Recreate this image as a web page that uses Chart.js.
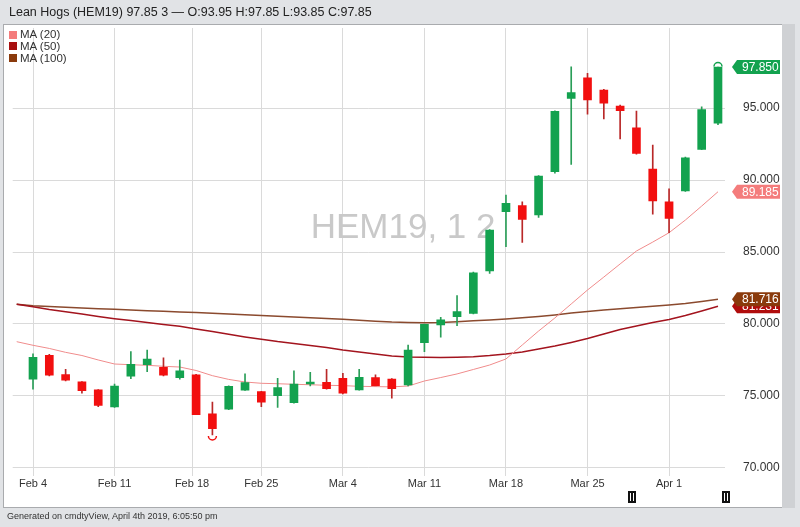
<!DOCTYPE html>
<html>
<head>
<meta charset="utf-8">
<script src="https://cdn.jsdelivr.net/npm/chart.js@4.4.1/dist/chart.umd.min.js"></script>
<style>
  html, body { margin: 0; padding: 0; }
  body { width: 800px; height: 527px; background: #e1e3e6; position: relative; overflow: hidden;
         font-family: "Liberation Sans", Arial, sans-serif; color: #222; }
  #frame { position: absolute; left: 3px; top: 24px; width: 778px; height: 482px; background: #fff;
           border: 1px solid #a9abae; }
  #strip { position: absolute; left: 782px; top: 24px; width: 13px; height: 484px; background: #cfd1d4; }
  #chart { position: absolute; left: 0; top: 0; }
  #header { position: absolute; left: 9px; top: 5px; font-size: 12.5px; white-space: nowrap; }
  #legend { position: absolute; left: 9px; top: 29px; font-size: 11.5px; line-height: 11.8px; color: #333; }
  #legend div { height: 11.8px; white-space: nowrap; }
  #legend span { display: inline-block; width: 8px; height: 8px; margin-right: 3px; vertical-align: -0.5px; }
  #footer { position: absolute; left: 7px; top: 511px; font-size: 9px; color: #333; white-space: nowrap; }
</style>
</head>
<body>
<div id="frame"></div>
<div id="strip"></div>
<canvas id="chart" width="800" height="527"></canvas>
<div id="header">Lean Hogs (HEM19) 97.85 3 — O:93.95 H:97.85 L:93.85 C:97.85</div>
<div id="legend">
  <div><span style="background:#f47c7c"></span>MA (20)</div>
  <div><span style="background:#a80f0f"></span>MA (50)</div>
  <div><span style="background:#8a3a0c"></span>MA (100)</div>
</div>
<div id="footer">Generated on cmdtyView, April 4th 2019, 6:05:50 pm</div>
<script>
// trading days, Feb 1 only carries the moving averages
const dates = ['Feb 1', 'Feb 4', 'Feb 5', 'Feb 6', 'Feb 7', 'Feb 8', 'Feb 11', 'Feb 12', 'Feb 13', 'Feb 14', 'Feb 15',
    'Feb 19', 'Feb 20', 'Feb 21', 'Feb 22', 'Feb 25', 'Feb 26', 'Feb 27', 'Feb 28', 'Mar 1', 'Mar 4', 'Mar 5', 'Mar 6',
    'Mar 7', 'Mar 8', 'Mar 11', 'Mar 12', 'Mar 13', 'Mar 14', 'Mar 15', 'Mar 18', 'Mar 19', 'Mar 20', 'Mar 21', 'Mar 22',
    'Mar 25', 'Mar 26', 'Mar 27', 'Mar 28', 'Mar 29', 'Apr 1', 'Apr 2', 'Apr 3', 'Apr 4'];

const openP = [null, 76.16, 77.83, 76.48, 75.99, 75.42, 74.24, 76.37, 77.17, 76.99, 76.27,
    76.46, 73.75, 74.08, 75.40, 75.30, 75.02, 74.53, 75.83, 75.95, 76.23, 75.42, 76.27,
    76.18, 75.76, 78.70, 79.93, 80.51, 80.74, 83.68, 87.80, 88.22, 87.57, 90.58, 95.67,
    97.10, 96.25, 95.14, 93.63, 90.76, 88.49, 89.24, 92.13, 93.95];
const highP = [null, 77.92, 77.90, 76.85, 76.00, 75.45, 75.83, 78.08, 78.19, 77.64, 77.50,
    76.50, 74.58, 75.70, 76.53, 75.32, 76.23, 76.74, 76.65, 76.85, 76.58, 76.85, 76.46,
    76.20, 78.54, 80.00, 80.47, 81.97, 83.60, 86.55, 88.96, 88.49, 90.30, 94.80, 97.87,
    97.41, 96.30, 95.20, 94.79, 92.43, 89.38, 91.60, 95.09, 97.85];
const lowP = [null, 75.47, 76.40, 76.05, 75.19, 74.26, 74.20, 76.20, 76.69, 76.40, 76.16,
    73.70, 72.29, 74.05, 75.38, 74.26, 74.21, 74.50, 75.69, 75.48, 75.15, 75.40, 75.70,
    74.84, 75.70, 78.08, 79.08, 79.88, 80.70, 83.52, 85.37, 85.67, 87.41, 90.47, 91.09,
    94.58, 94.24, 92.85, 91.80, 87.62, 86.34, 89.20, 92.10, 93.85];
const closeP = [null, 77.69, 76.44, 76.09, 75.37, 74.35, 75.69, 77.20, 77.57, 76.44, 76.74,
    73.70, 72.73, 75.67, 75.93, 74.56, 75.58, 75.83, 75.95, 75.51, 75.19, 76.30, 75.72,
    75.51, 78.19, 79.98, 80.28, 80.86, 83.56, 86.53, 88.38, 87.27, 90.28, 94.77, 96.07,
    95.56, 95.33, 94.81, 91.85, 88.54, 87.34, 91.55, 94.90, 97.85];

const ma20 = [78.77, 78.52, 78.30, 78.03, 77.81, 77.50, 77.22, 77.17, 77.13, 77.06, 77.01,
    76.77, 76.41, 76.15, 75.97, 75.88, 75.85, 75.81, 75.78, 75.74, 75.72, 75.67, 75.65,
    75.63, 75.69, 76.04, 76.28, 76.53, 76.84, 77.15, 77.57, 78.54, 79.51, 80.42, 81.39,
    82.36, 83.26, 84.17, 85.07, 85.69, 86.34, 87.22, 88.19, 89.185];
const ma50 = [81.37, 81.20, 81.01, 80.85, 80.69, 80.52, 80.37, 80.24, 80.10, 79.97, 79.84,
    79.65, 79.48, 79.28, 79.10, 78.94, 78.78, 78.65, 78.51, 78.37, 78.19, 78.06, 77.92,
    77.78, 77.71, 77.69, 77.67, 77.69, 77.73, 77.81, 77.92, 78.06, 78.26, 78.47, 78.72,
    78.99, 79.31, 79.62, 79.86, 80.10, 80.31, 80.59, 80.90, 81.231];
const ma100 = [81.37, 81.27, 81.22, 81.16, 81.11, 81.06, 81.02, 80.97, 80.92, 80.88, 80.83,
    80.80, 80.75, 80.69, 80.64, 80.59, 80.53, 80.49, 80.43, 80.38, 80.33, 80.26, 80.19,
    80.13, 80.10, 80.09, 80.10, 80.16, 80.22, 80.28, 80.35, 80.43, 80.52, 80.63, 80.76,
    80.87, 80.97, 81.06, 81.15, 81.23, 81.32, 81.42, 81.56, 81.716];

const weekTicks = ['Feb 4', 'Feb 11', 'Feb 18', 'Feb 25', 'Mar 4', 'Mar 11', 'Mar 18', 'Mar 25', 'Apr 1'];
const weekTickPos = [1, 6, 10.75, 15, 20, 25, 30, 35, 40];
const yTicks = [70, 75, 80, 85, 90, 95];
const eventPos = [37.75, 43.5];   // the little "II" markers under the axis

const GREEN = '#13a24f';
const RED = '#f20f0f';
const C_MA20 = '#f08c8c', C_MA50 = '#a3141e', C_MA100 = '#8b4a2e';

Chart.defaults.font.family = '"Liberation Sans", Arial, sans-serif';

const days = dates.map((d, i) => i).filter(i => openP[i] !== null);
const up = i => closeP[i] >= openP[i];

const overlay = {
    id: 'overlay',
    beforeDatasetsDraw(chart) {
        const { ctx, chartArea } = chart;
        ctx.save();
        ctx.fillStyle = '#c9c9c9';
        ctx.font = '35px "Liberation Sans", Arial, sans-serif';
        ctx.textBaseline = 'alphabetic';
        ctx.fillText('HEM19, 1 2', chartArea.left + 298, 238);
        ctx.restore();
    },
    afterDatasetsDraw(chart) {
        const { ctx, scales: { x, y } } = chart;
        ctx.save();
        // new high / new low arcs
        ctx.lineWidth = 1.5;
        ctx.strokeStyle = GREEN;
        ctx.beginPath();
        ctx.arc(x.getPixelForValue(43), y.getPixelForValue(highP[43]) - 0.5, 4, Math.PI, 2 * Math.PI);
        ctx.stroke();
        ctx.strokeStyle = RED;
        ctx.beginPath();
        ctx.arc(x.getPixelForValue(12), y.getPixelForValue(lowP[12]) + 1, 4, 0, Math.PI);
        ctx.stroke();

        // value badges on the right axis
        const badge = (val, color) => {
            const yy = y.getPixelForValue(val);
            const l = 737, r = 780, h = 14;
            ctx.fillStyle = color;
            ctx.beginPath();
            ctx.moveTo(l - 5, yy);
            ctx.lineTo(l, yy - h / 2);
            ctx.lineTo(r, yy - h / 2);
            ctx.lineTo(r, yy + h / 2);
            ctx.lineTo(l, yy + h / 2);
            ctx.closePath();
            ctx.fill();
            ctx.fillStyle = '#fff';
            ctx.font = '12px "Liberation Sans", Arial, sans-serif';
            ctx.textBaseline = 'middle';
            ctx.textAlign = 'left';
            ctx.fillText(val.toFixed(3), 742, yy + 0.5);
        };
        badge(ma50[ma50.length - 1], '#b00c0c');
        badge(ma100[ma100.length - 1], '#8a3a0c');
        badge(ma20[ma20.length - 1], '#f47c7c');
        badge(closeP[closeP.length - 1], GREEN);

        // event markers
        eventPos.forEach(p => {
            const xx = Math.round(x.getPixelForValue(p));
            ctx.fillStyle = '#111';
            ctx.fillRect(xx - 4, 491, 8, 12);
            ctx.fillStyle = '#fff';
            ctx.fillRect(xx - 2, 493, 1, 8);
            ctx.fillRect(xx + 1, 493, 1, 8);
        });
        ctx.restore();
    }
};

new Chart(document.getElementById('chart'), {
    type: 'bar',
    data: {
        datasets: [
            {
                type: 'line', label: 'MA (100)', order: 5,
                data: ma100.map((v, i) => ({ x: i, y: v })),
                borderColor: C_MA100, borderWidth: 1.5, pointRadius: 0, tension: 0
            },
            {
                type: 'line', label: 'MA (50)', order: 4,
                data: ma50.map((v, i) => ({ x: i, y: v })),
                borderColor: C_MA50, borderWidth: 1.5, pointRadius: 0, tension: 0
            },
            {
                type: 'line', label: 'MA (20)', order: 3,
                data: ma20.map((v, i) => ({ x: i, y: v })),
                borderColor: C_MA20, borderWidth: 1, pointRadius: 0, tension: 0
            },
            {
                label: 'wick', order: 2, grouped: false,
                data: days.map(i => ({ x: i, y: [lowP[i], highP[i]] })),
                backgroundColor: c => up(c.raw.x) ? '#2a9e58' : '#b92828',
                barThickness: 1
            },
            {
                label: 'body', order: 1, grouped: false,
                data: days.map(i => ({ x: i, y: [openP[i], closeP[i]] })),
                backgroundColor: c => up(c.raw.x) ? GREEN : RED,
                barThickness: 8, minBarLength: 2
            }
        ]
    },
    options: {
        responsive: false,
        animation: false,
        devicePixelRatio: 1,
        layout: { padding: { left: 12.7, top: 28, right: 18, bottom: 21 } },
        plugins: { legend: { display: false }, tooltip: { enabled: false } },
        scales: {
            x: {
                type: 'linear',
                min: -0.245,
                max: 43.43,
                offset: false,
                afterBuildTicks: s => { s.ticks = weekTickPos.map(v => ({ value: v })); },
                afterFit: s => { s.height = 30; },
                grid: { color: '#dadada', drawTicks: false, offset: false },
                border: { display: false },
                ticks: {
                    autoSkip: false, maxRotation: 0, padding: 1,
                    color: '#333', font: { size: 11 },
                    callback: (v, i) => weekTicks[i]
                }
            },
            y: {
                position: 'right',
                min: 69.44,
                max: 100.56,
                afterBuildTicks: s => { s.ticks = yTicks.map(v => ({ value: v })); },
                afterFit: s => { s.width = 57; },
                grid: { color: '#dadada', drawTicks: false },
                border: { display: false },
                ticks: {
                    padding: 18, color: '#333', font: { size: 12 },
                    callback: v => v.toFixed(3)
                }
            }
        }
    },
    plugins: [overlay]
});
</script>
</body>
</html>
